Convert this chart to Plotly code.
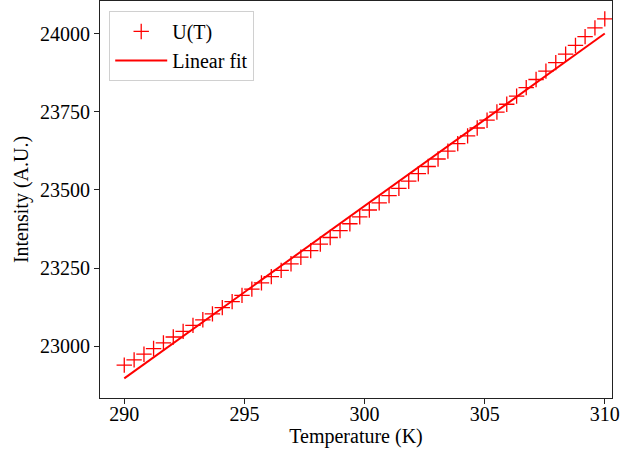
import numpy as np
import plotly.graph_objects as go

# Data
temperature = [290.00, 290.41, 290.82, 291.22, 291.63, 292.04, 292.45, 292.86, 293.27, 293.67,
               294.08, 294.49, 294.90, 295.31, 295.71, 296.12, 296.53, 296.94, 297.35, 297.76,
               298.16, 298.57, 298.98, 299.39, 299.80, 300.20, 300.61, 301.02, 301.43, 301.84,
               302.24, 302.65, 303.06, 303.47, 303.88, 304.29, 304.69, 305.10, 305.51, 305.92,
               306.33, 306.73, 307.14, 307.55, 307.96, 308.37, 308.78, 309.18, 309.59, 310.00]
intensity = [22940, 22957, 22975, 22993, 23011, 23030, 23048, 23067, 23085, 23104,
             23124, 23143, 23163, 23183, 23203, 23223, 23243, 23264, 23285, 23306,
             23327, 23348, 23370, 23392, 23414, 23436, 23459, 23482, 23505, 23528,
             23552, 23575, 23599, 23624, 23648, 23673, 23698, 23723, 23749, 23774,
             23800, 23827, 23853, 23880, 23907, 23934, 23962, 23990, 24018, 24047]
x_ticks = [290, 295, 300, 305, 310]
y_ticks = [23000, 23250, 23500, 23750, 24000]

T = np.array(temperature)
U = np.array(intensity)
slope, intercept = np.polyfit(T, U, 1)
fit_T = T
fit_U = slope * T + intercept

FONT = "Liberation Serif, Times New Roman, serif"

fig = go.Figure()
fig.add_trace(go.Scatter(
    x=T, y=U, mode="markers", name="U(T)",
    marker=dict(symbol="cross-thin", size=11, color="red",
                line=dict(color="red", width=1.3)),
))
fig.add_trace(go.Scatter(
    x=fit_T, y=fit_U, mode="lines", name="Linear fit",
    line=dict(color="red", width=2),
))

axis_common = dict(
    showline=True, mirror=True, linecolor="#222", linewidth=1,
    ticks="outside", ticklen=5, tickwidth=1, tickcolor="#222",
    showgrid=False, zeroline=False, automargin=False,
    tickfont=dict(family=FONT, size=20, color="black"),
)

fig.update_layout(
    width=640, height=455,
    margin=dict(l=100, r=28, t=1, b=57, autoexpand=False),
    paper_bgcolor="white", plot_bgcolor="white",
    font=dict(family=FONT, size=20, color="black"),
    xaxis=dict(range=[288.99, 310.30], tickvals=x_ticks, ticktext=[str(v) for v in x_ticks],
               ticklabelstandoff=-7,
               title=dict(text="Temperature (K)", font=dict(family=FONT, size=20), standoff=0),
               **axis_common),
    yaxis=dict(range=[22835, 24104], tickvals=y_ticks, ticktext=[str(v) for v in y_ticks],
               title=dict(text="Intensity (A.U.)", font=dict(family=FONT, size=20), standoff=6),
               **axis_common),
    legend=dict(x=0.018, y=0.975, xanchor="left", yanchor="top", itemwidth=52,
                bgcolor="rgba(255,255,255,0.8)", bordercolor="#d0d0d0", borderwidth=1,
                font=dict(family=FONT, size=20, color="black")),
    showlegend=True,
)

fig.write_html("out.html", config={"displayModeBar": False},
               post_script="document.body.style.margin='0';")
